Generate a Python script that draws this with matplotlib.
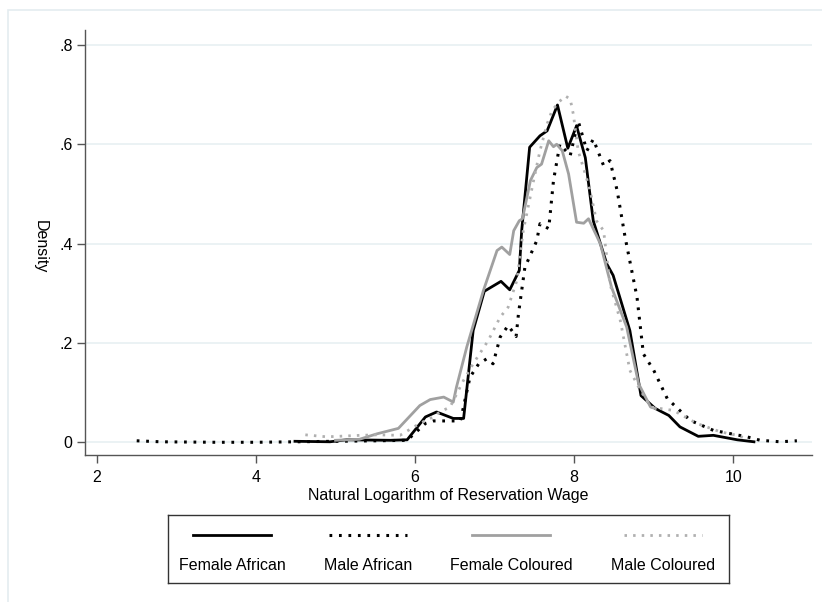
import matplotlib
matplotlib.use("Agg")
import matplotlib.pyplot as plt
from matplotlib.patches import Rectangle

plt.rcParams['font.family'] = ['Liberation Sans', 'DejaVu Sans']

# density curves
fa_x = [4.49, 4.93, 5.14, 5.69, 5.90, 6.13, 6.27, 6.48, 6.61, 6.73, 6.87, 7.08, 7.19, 7.31, 7.34,
        7.44, 7.57, 7.66, 7.79, 7.92, 8.03, 8.14, 8.24, 8.41, 8.49, 8.70, 8.84, 9.02, 9.19, 9.33,
        9.56, 9.75, 10.05, 10.26]
fa_y = [0.002, 0.001, 0.005, 0.004, 0.005, 0.051, 0.061, 0.048, 0.048, 0.225, 0.304, 0.324, 0.307,
        0.346, 0.426, 0.594, 0.617, 0.627, 0.679, 0.592, 0.637, 0.573, 0.446, 0.359, 0.336, 0.225,
        0.094, 0.068, 0.054, 0.031, 0.012, 0.014, 0.005, 0.001]

ma_x = [2.5, 2.8, 3.5, 4.0, 4.5, 5.0, 5.5, 5.9, 6.13, 6.23, 6.57, 6.69, 6.80, 6.90, 6.98, 7.07, 7.17,
        7.27, 7.30, 7.38, 7.53, 7.57, 7.68, 7.74, 7.82, 7.95, 8.05, 8.16, 8.24, 8.37, 8.45, 8.54,
        8.64, 8.79, 8.87, 9.00, 9.17, 9.46, 9.75, 10.17, 10.34, 10.59, 10.80]
ma_y = [0.003, 0.001, 0.0, 0.0, 0.001, 0.002, 0.003, 0.004, 0.038, 0.043, 0.043, 0.131, 0.158, 0.168,
        0.158, 0.212, 0.235, 0.213, 0.259, 0.352, 0.406, 0.440, 0.430, 0.527, 0.600, 0.577, 0.647,
        0.587, 0.610, 0.557, 0.567, 0.507, 0.413, 0.292, 0.178, 0.145, 0.088, 0.044, 0.024, 0.011,
        0.004, 0.001, 0.003]

fc_x = [5.0, 5.3, 5.52, 5.79, 6.06, 6.19, 6.36, 6.48, 6.52, 6.65, 6.86, 7.03, 7.09, 7.19, 7.24, 7.31,
        7.35, 7.45, 7.53, 7.59, 7.68, 7.74, 7.78, 7.85, 7.93, 8.03, 8.12, 8.18, 8.29, 8.33, 8.47,
        8.66, 8.81, 8.96, 9.02]
fc_y = [0.004, 0.006, 0.017, 0.028, 0.074, 0.086, 0.091, 0.081, 0.111, 0.192, 0.306, 0.386, 0.393,
        0.378, 0.426, 0.446, 0.450, 0.527, 0.553, 0.560, 0.607, 0.595, 0.600, 0.587, 0.540, 0.443,
        0.441, 0.450, 0.413, 0.399, 0.312, 0.232, 0.118, 0.071, 0.068]

mc_x = [4.62, 4.89, 5.31, 5.52, 5.81, 6.06, 6.23, 6.31, 6.44, 6.61, 6.73, 6.92, 7.07, 7.17, 7.28,
        7.36, 7.49, 7.57, 7.66, 7.72, 7.80, 7.89, 7.95, 7.99, 8.05, 8.14, 8.20, 8.28, 8.37, 8.45,
        8.58, 8.70, 8.81, 8.96, 9.25, 9.54, 9.84, 10.05, 10.12]
mc_y = [0.015, 0.011, 0.014, 0.015, 0.014, 0.038, 0.051, 0.061, 0.071, 0.125, 0.158, 0.205, 0.252,
        0.272, 0.326, 0.426, 0.527, 0.587, 0.641, 0.667, 0.684, 0.697, 0.691, 0.660, 0.587, 0.540,
        0.507, 0.446, 0.426, 0.319, 0.245, 0.145, 0.111, 0.071, 0.064, 0.038, 0.021, 0.014, 0.010]

labels = ['Female African', 'Male African', 'Female Coloured', 'Male Coloured']
xticks = [2, 4, 6, 8, 10]
yticks = [0, 0.2, 0.4, 0.6, 0.8]
ytick_labels = ['0', '.2', '.4', '.6', '.8']

styles = [
    dict(color='black', lw=2.0, ls='-'),
    dict(color='black', lw=2.2, ls=(0, (0.9, 2.2))),
    dict(color='#a0a0a0', lw=2.0, ls='-'),
    dict(color='#b0b0b0', lw=2.0, ls=(0, (0.9, 2.2))),
]

W, H = 822, 602
fig = plt.figure(figsize=(W / 100, H / 100), dpi=100)

# outer light frame
fig.patches.append(Rectangle((8 / W, -0.05), 1.2, 1 - 10 / H + 0.05, transform=fig.transFigure,
                             fill=False, ec='#e4ecf0', lw=1.2))

ax = fig.add_axes([85 / W, 1 - 455 / H, (812 - 85) / W, (455 - 30) / H])
series = [(fa_x, fa_y), (ma_x, ma_y), (fc_x, fc_y), (mc_x, mc_y)]
for (xs, ys), st in zip(series, styles):
    ax.plot(xs, ys, **st, zorder=3)

ax.set_xlim(1.85, 10.99)
ax.set_ylim(-0.0256, 0.83)
for s in ['top', 'right']:
    ax.spines[s].set_visible(False)
for s in ['left', 'bottom']:
    ax.spines[s].set_color('#555555')
    ax.spines[s].set_linewidth(1.0)
ax.set_xticks(xticks)
ax.set_yticks(yticks)
ax.set_yticklabels(ytick_labels)
ax.tick_params(direction='out', length=6, width=1, color='#555555', labelsize=11.5, pad=3)
ax.tick_params(axis='x', pad=5)
ax.grid(axis='y', color='#e8f0f2', lw=1.2)
ax.set_axisbelow(True)
ax.set_xlabel('Natural Logarithm of Reservation Wage', fontsize=11.5, labelpad=2)
fig.text(40 / W, 1 - 247 / H, 'Density', rotation=270, ha='center', va='center', fontsize=11.5)

# legend box: line on top row, label below
lg = fig.add_axes([168 / W, 1 - 583 / H, (729 - 168) / W, (583 - 515) / H])
lg.set_xlim(168, 729)
lg.set_ylim(583, 515)
lg.set_xticks([])
lg.set_yticks([])
for s in lg.spines.values():
    s.set_color('#333333')
    s.set_linewidth(1.0)
centers = [232, 368, 511, 663]
for c, lab, st in zip(centers, labels, styles):
    lg.plot([c - 39, c + 39], [535, 535], **st)
    lg.text(c, 566, lab, ha='center', va='center', fontsize=11.5)

fig.savefig('out.png', dpi=100)
